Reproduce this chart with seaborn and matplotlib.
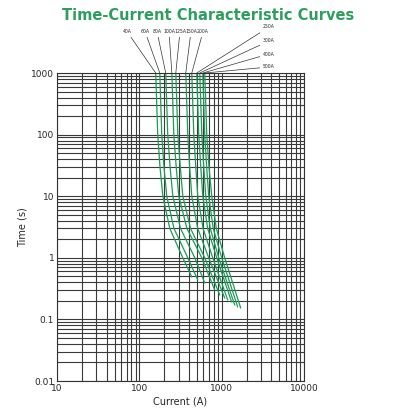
import numpy as np
import matplotlib
matplotlib.use("Agg")
import matplotlib.pyplot as plt
import seaborn as sns
from matplotlib.ticker import LogLocator, FixedLocator, FixedFormatter, NullFormatter

sns.set_style("white")
plt.rcParams['font.family'] = ['DejaVu Sans']

ratings = ["40A", "60A", "80A", "100A", "125A", "150A", "200A", "250A", "300A", "400A", "500A"]
i_1000 = [158, 177, 209, 248, 277, 366, 433, 498, 541, 589, 622]
i_100 = [167, 187, 221, 262, 293, 387, 458, 526, 573, 622, 658]
i_30 = [178, 199, 236, 280, 314, 408, 484, 556, 605, 656, 700]
i_10 = [193, 215, 255, 301, 337, 433, 512, 589, 640, 695, 757]
i_3 = [234, 263, 316, 378, 418, 511, 593, 675, 726, 789, 859]
i_1 = [337, 387, 471, 573, 622, 695, 778, 869, 920, 1000, 1087]
i_end = [433, 512, 622, 822, 946, 1087, 1183, 1321, 1439, 1563, 1698]
t_end = [0.488, 0.437, 0.39, 0.30, 0.249, 0.222, 0.206, 0.191, 0.171, 0.159, 0.153]

fig = plt.figure(figsize=(4.16, 4.16), dpi=100)
ax = fig.add_axes([0.137, 0.0841, 0.594, 0.7404])
ax.set_xscale("log"); ax.set_yscale("log")
ax.set_xlim(10, 10000); ax.set_ylim(0.01, 1000)

green = "#1f9a5a"
for k in range(len(ratings)):
    xs = [i_1000[k], i_100[k], i_30[k], i_10[k], i_3[k], i_1[k], i_end[k]]
    ys = [1000, 100, 30, 10, 3, 1, t_end[k]]
    sns.lineplot(x=xs, y=ys, ax=ax, color=green, lw=0.9, sort=False, estimator=None)

ax.grid(True, which="both", color="#3a3a3a", lw=0.8)
ax.xaxis.set_major_locator(FixedLocator([10, 100, 1000, 10000]))
ax.xaxis.set_major_formatter(FixedFormatter(["10", "100", "1000", "10000"]))
ax.xaxis.set_minor_locator(LogLocator(subs=np.arange(2, 10)))
ax.xaxis.set_minor_formatter(NullFormatter())
yt = [0.01, 0.1, 1, 10, 100, 1000]
ax.yaxis.set_major_locator(FixedLocator(yt))
ax.yaxis.set_major_formatter(FixedFormatter(["0.01", "0.1", "1", "10", "100", "1000"]))
ax.yaxis.set_minor_locator(LogLocator(subs=np.arange(2, 10)))
ax.yaxis.set_minor_formatter(NullFormatter())
ax.tick_params(labelsize=6.5, length=0, pad=2)
for s in ax.spines.values():
    s.set_color("#333333")
ax.set_xlabel("Current (A)", fontsize=7, labelpad=3)
ax.set_ylabel("Time (s)", fontsize=7, labelpad=3)

fig.text(0.5, 0.962, "Time-Current Characteristic Curves", ha="center", va="center",
         color="#2e9e5e", fontsize=10.5, fontweight="bold")

label_px = [(127, 34), (145, 34), (157, 34), (169, 34), (180, 34), (191, 34), (203, 34),
            (263, 27), (263, 41), (263, 54), (263, 67)]
for k, r in enumerate(ratings):
    px, py = label_px[k]
    ax.annotate(r, xy=(i_1000[k], 1000), xycoords="data",
                xytext=(px / 416, 1 - py / 416), textcoords="figure fraction",
                fontsize=3.3, ha="center" if k < 7 else "left", va="bottom" if k < 7 else "center",
                arrowprops=dict(arrowstyle="-", color="#333333", lw=0.5,
                                shrinkA=0, shrinkB=0), annotation_clip=False)

fig.savefig("out.png", dpi=100)
